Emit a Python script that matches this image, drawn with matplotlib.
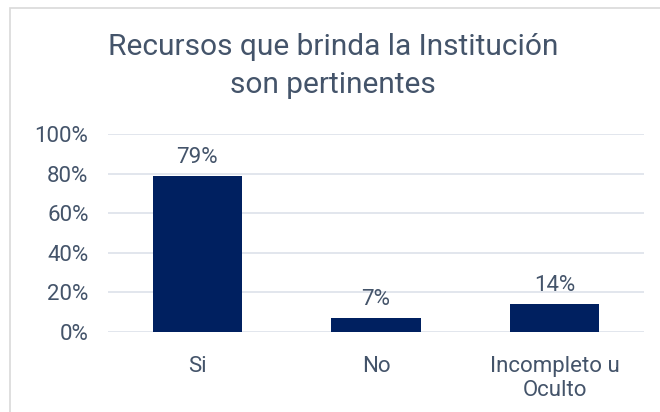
import matplotlib
matplotlib.use("Agg")
import matplotlib.pyplot as plt
from matplotlib.patches import Rectangle
import numpy as np

categories = ["Si", "No", "Incompleto u\nOculto"]
values = [79, 7, 14]
labels = ["79%", "7%", "14%"]
title = "Recursos que brinda la Institución\nson pertinentes"

text_color = "#44546a"
bar_color = "#002060"
grid_color = "#dde2ea"

plt.rcParams["font.family"] = ["Roboto", "DejaVu Sans"]

fig = plt.figure(figsize=(6.6, 4.12), dpi=100)
fig.patch.set_facecolor("white")
fig.patches.append(Rectangle((10 / 660, -0.1), 1.2, 1 - 8 / 412 + 0.1,
                             transform=fig.transFigure, fill=False,
                             edgecolor="#d9d9d9", linewidth=1.2))

ax = fig.add_axes([108 / 660, 1 - 332 / 412, 536 / 660, 198 / 412])
x = np.arange(len(categories))
bars = ax.bar(x, values, width=0.5, color=bar_color, zorder=3)
for b, lab in zip(bars, labels):
    ax.text(b.get_x() + b.get_width() / 2, b.get_height() + 4, lab,
            ha="center", va="bottom", fontsize=16, color=text_color)

ax.set_xlim(-0.5, len(categories) - 0.5)
ax.set_ylim(0, 100)
ax.set_yticks(range(0, 101, 20))
ax.set_yticklabels([f"{v}%" for v in range(0, 101, 20)])
ax.set_xticks(x)
ax.set_xticklabels(categories, linespacing=1.2)
ax.tick_params(axis="both", length=0, labelsize=16, labelcolor=text_color)
ax.tick_params(axis="x", pad=17)
ax.tick_params(axis="y", pad=14)
ax.grid(axis="y", color=grid_color, linewidth=1.2, zorder=0)
for s in ax.spines.values():
    s.set_visible(False)

fig.text(0.505, 1 - 66 / 412, title, ha="center", va="center",
         fontsize=21.5, color=text_color, linespacing=1.45)

fig.savefig("out.png", dpi=100)
